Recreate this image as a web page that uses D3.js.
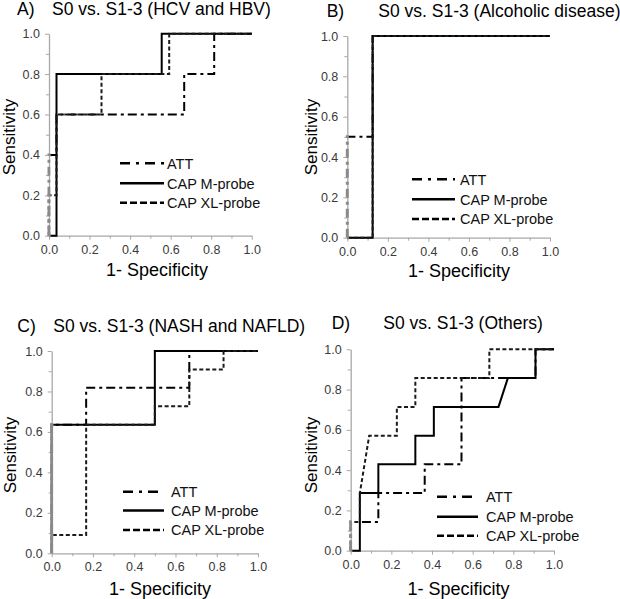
<!DOCTYPE html>
<html><head><meta charset="utf-8">
<script src="https://cdn.jsdelivr.net/npm/d3@7"></script>
<style>body{margin:0;background:#fff}svg{display:block}</style>
</head><body>
<svg id="chart" width="620" height="599"></svg>
<script>
// ---------------- data ----------------
const seriesNames = ["ATT", "CAP M-probe", "CAP XL-probe"];
const panelLetters = ["A)", "B)", "C)", "D)"];
const panelTitles = [
  "S0 vs. S1-3 (HCV and HBV)",
  "S0 vs. S1-3 (Alcoholic disease)",
  "S0 vs. S1-3 (NASH and NAFLD)",
  "S0 vs. S1-3 (Others)"
];
const majorTicks = [0.0, 0.2, 0.4, 0.6, 0.8, 1.0];
const minorTicks = [0.1, 0.3, 0.5, 0.7, 0.9];
const xAxisTitle = "1- Specificity";
const yAxisTitle = "Sensitivity";

// ROC points: [1 - specificity, sensitivity]
const attA = [[0,0],[0,0.4],[0.037,0.4],[0.037,0.6],[0.667,0.6],[0.667,0.8],[0.815,0.8],[0.815,1],[1,1]];
const mA   = [[0,0],[0.037,0],[0.037,0.8],[0.556,0.8],[0.556,1],[1,1]];
const xlA  = [[0,0],[0,0.2],[0.037,0.2],[0.037,0.6],[0.259,0.6],[0.259,0.8],[0.593,0.8],[0.593,1],[1,1]];

const attB = [[0,0],[0,0.5],[0.125,0.5],[0.125,1],[1,1]];
const mB   = [[0,0],[0.125,0],[0.125,1],[1,1]];
const xlB  = [[0,0],[0.125,0],[0.125,1],[1,1]];

const attC = [[0,0],[0,0.636],[0.167,0.636],[0.167,0.818],[0.667,0.818],[0.667,1],[1,1]];
const mC   = [[0,0],[0,0.636],[0.5,0.636],[0.5,1],[1,1]];
const xlC  = [[0,0],[0,0.091],[0.167,0.091],[0.167,0.636],[0.5,0.636],[0.5,0.727],[0.667,0.727],[0.667,0.909],[0.833,0.909],[0.833,1],[1,1]];

const attD = [[0,0],[0,0.143],[0.136,0.143],[0.136,0.286],[0.364,0.286],[0.364,0.429],[0.545,0.429],[0.545,0.857],[0.909,0.857],[0.909,1],[1,1]];
const mD   = [[0,0],[0.045,0],[0.045,0.286],[0.136,0.286],[0.136,0.429],[0.318,0.429],[0.318,0.571],[0.409,0.571],[0.409,0.714],[0.727,0.714],[0.773,0.857],[0.909,0.857],[0.909,1],[1,1]];
const xlD  = [[0,0],[0,0.143],[0.045,0.143],[0.045,0.286],[0.091,0.571],[0.227,0.571],[0.227,0.714],[0.318,0.714],[0.318,0.857],[0.682,0.857],[0.682,1],[1,1]];

const panelSeries = [[attA, mA, xlA], [attB, mB, xlB], [attC, mC, xlC], [attD, mD, xlD]];

// ---------------- layout / style ----------------
const layout = [
  {x0:49,    x1:251.7, yT:33.7,  yB:235.7, letterX:17,    titleX:52,    titleY:15,    yTitleX:9,   yTitleY:137, xTitleX:157,   xTitleY:276,
   legX0:120, legX1:164, legTX:167, legY:[163.3,183.3,202.8]},
  {x0:347.3, x1:550,   yT:36,    yB:237.7, letterX:326.7, titleX:378.3, titleY:17,    yTitleX:311, yTitleY:137, xTitleX:459,   xTitleY:277,
   legX0:412, legX1:455, legTX:460, legY:[179.3,199.3,219]},
  {x0:51.7,  x1:258,   yT:351,   yB:553.3, letterX:17.3,  titleX:53.3,  titleY:331.7, yTitleX:10,  yTitleY:455, xTitleX:160,   xTitleY:595,
   legX0:123, legX1:164, legTX:171, legY:[491.7,510.5,530]},
  {x0:350.7, x1:554,   yT:349.3, yB:550.7, letterX:331.7, titleX:383.3, titleY:329,   yTitleX:311, yTitleY:455, xTitleX:458.5, xTitleY:595,
   legX0:437, legX1:478, legTX:486, legY:[496.7,516.7,535.7]}
];
const plotDash   = ["9,4,3,4", null, "4,2.5"];
const legendDash = ["10,6,3,6", null, "7,3"];
const FONT = "'Liberation Sans', Arial, sans-serif";
const axisGray = "#a8a8a8";

const svg = d3.select("#chart");

layout.forEach((L, i) => {
  const g = svg.append("g");
  const x = d3.scaleLinear().domain([0, 1]).range([L.x0, L.x1]);
  const y = d3.scaleLinear().domain([0, 1]).range([L.yB, L.yT]);

  // minor ticks
  g.append("g").attr("transform", `translate(0,${L.yB})`)
    .call(d3.axisBottom(x).tickValues(minorTicks).tickSize(3).tickFormat(""))
    .call(a => a.select(".domain").remove())
    .call(a => a.selectAll("line").attr("stroke", axisGray));
  g.append("g").attr("transform", `translate(${L.x0},0)`)
    .call(d3.axisLeft(y).tickValues(minorTicks).tickSize(3).tickFormat(""))
    .call(a => a.select(".domain").remove())
    .call(a => a.selectAll("line").attr("stroke", axisGray));
  // major ticks + labels
  const xa = g.append("g").attr("transform", `translate(0,${L.yB})`)
    .call(d3.axisBottom(x).tickValues(majorTicks).tickSize(4).tickSizeOuter(0).tickPadding(5).tickFormat(d3.format(".1f")));
  const ya = g.append("g").attr("transform", `translate(${L.x0},0)`)
    .call(d3.axisLeft(y).tickValues(majorTicks).tickSize(4).tickSizeOuter(0).tickPadding(5).tickFormat(d3.format(".1f")));
  [xa, ya].forEach(a => {
    a.select(".domain").attr("stroke", axisGray).attr("stroke-width", 1.3);
    a.selectAll(".tick line").attr("stroke", axisGray);
    a.selectAll("text").attr("fill", "#3a3a3a").style("font-family", FONT).style("font-size", "12.5px");
  });

  // clip regions: main plot area and the strip on the y axis (drawn gray)
  const mainId = "clipMain" + i, edgeId = "clipEdge" + i;
  const defs = g.append("defs");
  defs.append("clipPath").attr("id", mainId).append("rect")
    .attr("x", L.x0 + 1.6).attr("y", L.yT - 6).attr("width", L.x1 - L.x0 + 8).attr("height", L.yB - L.yT + 12);
  defs.append("clipPath").attr("id", edgeId).append("rect")
    .attr("x", L.x0 - 3).attr("y", L.yT - 6).attr("width", 4.6).attr("height", L.yB - L.yT + 12);

  const line = d3.line().x(d => x(d[0])).y(d => y(d[1]));
  // draw order: ATT, M, XL on top
  [0, 1, 2].forEach(s => {
    const data = panelSeries[i][s];
    g.append("path").datum(data).attr("d", line)
      .attr("fill", "none").attr("stroke", "#8a8a8a").attr("stroke-width", 3)
      .attr("stroke-dasharray", plotDash[s]).attr("clip-path", `url(#${edgeId})`);
    g.append("path").datum(data).attr("d", line)
      .attr("fill", "none").attr("stroke", s === 2 ? "#1a1a1a" : "#000").attr("stroke-width", 2)
      .attr("stroke-dasharray", plotDash[s]).attr("clip-path", `url(#${mainId})`);
  });

  // legend
  seriesNames.forEach((name, s) => {
    g.append("line").attr("x1", L.legX0).attr("x2", L.legX1).attr("y1", L.legY[s]).attr("y2", L.legY[s])
      .attr("stroke", "#000").attr("stroke-width", 2.6).attr("stroke-dasharray", legendDash[s]);
    g.append("text").attr("x", L.legTX).attr("y", L.legY[s]).attr("dy", "0.36em")
      .style("font-family", FONT).style("font-size", "14.5px").attr("fill", "#111").text(name);
  });

  // titles
  g.append("text").attr("x", L.letterX).attr("y", L.titleY)
    .style("font-family", FONT).style("font-size", "17.5px").attr("fill", "#000").text(panelLetters[i]);
  g.append("text").attr("x", L.titleX).attr("y", L.titleY)
    .style("font-family", FONT).style("font-size", "17.5px").attr("fill", "#000").text(panelTitles[i]);
  g.append("text").attr("x", L.xTitleX).attr("y", L.xTitleY).attr("text-anchor", "middle")
    .style("font-family", FONT).style("font-size", "18px").attr("fill", "#000").text(xAxisTitle);
  g.append("text").attr("transform", `translate(${L.yTitleX},${L.yTitleY}) rotate(-90)`)
    .attr("text-anchor", "middle").attr("dy", "0.36em")
    .style("font-family", FONT).style("font-size", "17px").attr("fill", "#000").text(yAxisTitle);
});
</script>
</body></html>
